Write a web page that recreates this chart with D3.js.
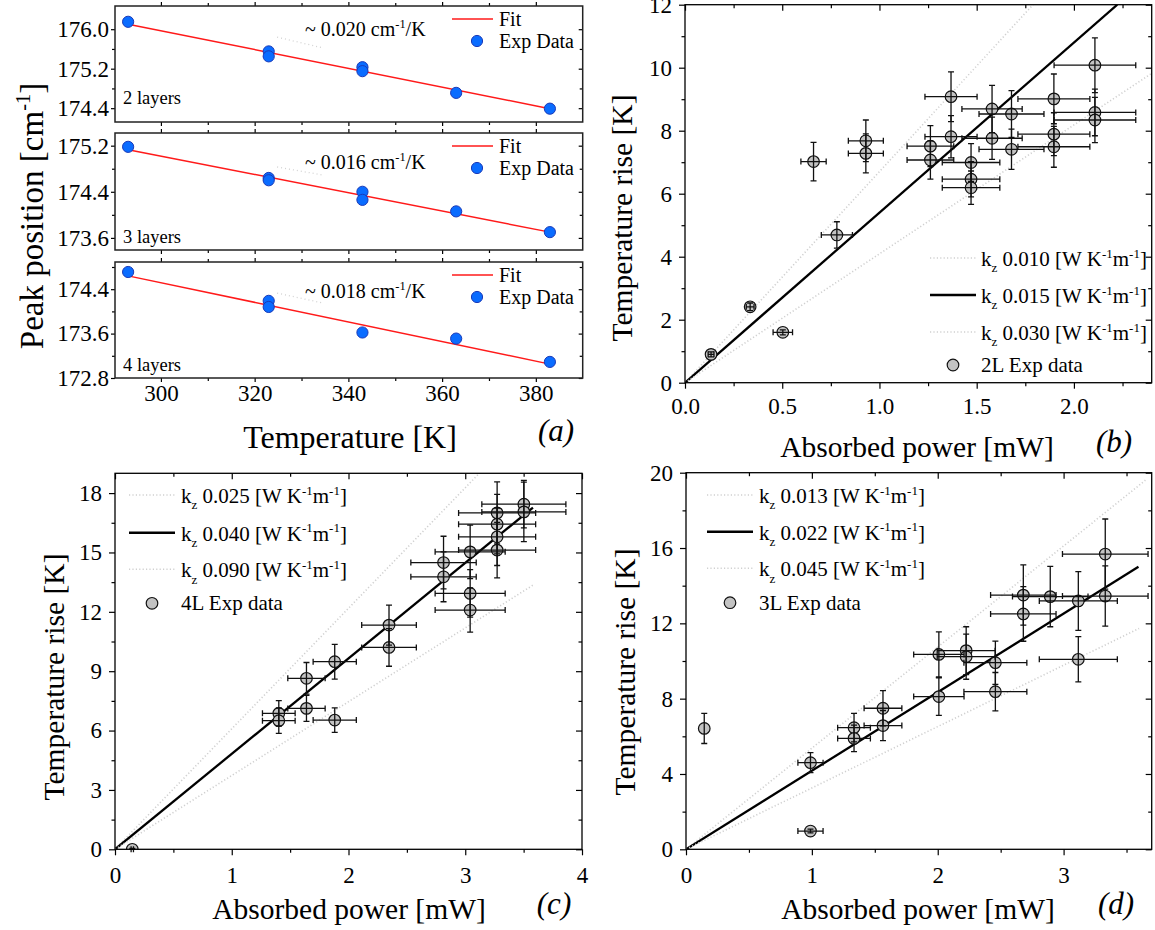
<!DOCTYPE html>
<html>
<head>
<meta charset="utf-8">
<script src="https://cdn.jsdelivr.net/npm/d3@7"></script>
<style>
  body { margin: 0; background: #fff; }
  svg { display: block; font-family: "Liberation Serif", "Times New Roman", serif; }
</style>
</head>
<body>
<svg id="fig" width="1155" height="930"></svg>
<script>
// ---------- (a) Raman peak position versus temperature ----------
const tempK2L = [293, 323, 323, 343, 343, 363, 383];
const peak2L  = [176.15, 175.55, 175.45, 175.23, 175.15, 174.71, 174.39];
const tempK3L = [293, 323, 323, 343, 343, 363, 383];
const peak3L  = [175.18, 174.64, 174.60, 174.40, 174.26, 174.06, 173.70];
const tempK4L = [293, 323, 323, 343, 363, 383];
const peak4L  = [174.71, 174.19, 174.08, 173.62, 173.51, 173.09];
const fitTemp = [293, 383];
const fit2L = [176.10, 174.39];
const fit3L = [175.13, 173.70];
const fit4L = [174.64, 173.05];
const slopeText = ["0.020", "0.016", "0.018"];
const layerText = ["2 layers", "3 layers", "4 layers"];
const tempTicks = [300, 320, 340, 360, 380];
const tempMinor = [310, 330, 350, 370];
const peakTicks2L = [174.4, 175.2, 176.0];
const peakTicks3L = [173.6, 174.4, 175.2];
const peakTicks4L = [172.8, 173.6, 174.4];
const peakMinor2L = [174.8, 175.6];
const peakMinor3L = [174.0, 174.8];
const peakMinor4L = [173.2, 174.0, 174.8];
const peakRange2L = [174.12, 176.47];
const peakRange3L = [173.39, 175.42];
const peakRange4L = [172.8, 174.89];
// leader from the slope note toward the fit line: [T0, T1], [peak0, peak1]
const leaderTemp = [324.8, 334.6];
const leader2L = [175.84, 175.62];
const leader3L = [174.83, 174.69];
const leader4L = [174.33, 174.15];

// ---------- (b) 2 layers: temperature rise vs absorbed power ----------
const power2L = [0.134, 0.335, 0.503, 0.661, 0.781, 0.930, 0.930, 1.262, 1.262, 1.368, 1.368, 1.471, 1.471, 1.471, 1.579, 1.579, 1.679, 1.679, 1.897, 1.897, 1.897, 2.108, 2.108, 2.108];
const rise2L  = [0.90, 2.41, 1.60, 7.02, 4.69, 7.68, 7.28, 7.51, 7.07, 9.08, 7.81, 6.99, 6.46, 6.19, 8.69, 7.76, 8.53, 7.41, 9.01, 7.89, 7.49, 10.08, 8.58, 8.34];
const powerErr2L = [0.015, 0.02, 0.05, 0.065, 0.08, 0.09, 0.09, 0.12, 0.12, 0.134, 0.134, 0.148, 0.148, 0.148, 0.155, 0.155, 0.167, 0.167, 0.185, 0.185, 0.185, 0.21, 0.21, 0.21];
const riseErr2L  = [0.08, 0.12, 0.08, 0.61, 0.42, 0.66, 0.62, 0.65, 0.61, 0.79, 0.67, 0.60, 0.56, 0.53, 0.75, 0.67, 0.74, 0.64, 0.79, 0.68, 0.65, 0.87, 0.74, 0.72];
const kz2L = ["0.010", "0.015", "0.030"];
const modelEndPower2L = [1.79, 2.223, 2.4];
const modelEndRise2L  = [12, 12, 9.82];
const powerTicks2L = [0, 0.5, 1.0, 1.5, 2.0];
const powerMinor2L = [0.25, 0.75, 1.25, 1.75, 2.25];
const riseTicks2L = [0, 2, 4, 6, 8, 10, 12];
const riseMinor2L = [1, 3, 5, 7, 9, 11];

// ---------- (c) 4 layers ----------
const power4L = [0.148, 1.403, 1.403, 1.640, 1.640, 1.882, 1.882, 2.347, 2.347, 2.814, 2.814, 3.042, 3.042, 3.042, 3.273, 3.273, 3.273, 3.273, 3.502, 3.502];
const rise4L  = [0.0, 6.87, 6.50, 8.64, 7.12, 9.48, 6.53, 11.33, 10.20, 14.49, 13.77, 15.03, 12.93, 12.09, 17.00, 16.43, 15.79, 15.12, 17.44, 17.05];
const powerErr4L = [0.01, 0.14, 0.14, 0.16, 0.16, 0.185, 0.185, 0.234, 0.234, 0.28, 0.28, 0.30, 0.30, 0.30, 0.33, 0.33, 0.33, 0.33, 0.36, 0.36];
const riseErr4L  = [0.05, 0.64, 0.64, 0.80, 0.66, 0.88, 0.62, 1.01, 0.95, 1.33, 1.26, 1.35, 1.20, 1.12, 1.57, 1.50, 1.45, 1.40, 1.20, 1.50];
const kz4L = ["0.025", "0.040", "0.090"];
const modelEndPower4L = [3.12, 3.58, 3.58];
const modelEndRise4L  = [19, 17.27, 13.35];
const powerTicks4L = [0, 1, 2, 3, 4];
const powerMinor4L = [0.5, 1.5, 2.5, 3.5];
const riseTicks4L = [0, 3, 6, 9, 12, 15, 18];
const riseMinor4L = [1.5, 4.5, 7.5, 10.5, 13.5, 16.5];

// ---------- (d) 3 layers ----------
const power3L = [0.145, 0.989, 0.989, 1.335, 1.335, 1.565, 1.565, 2.009, 2.009, 2.226, 2.226, 2.458, 2.458, 2.680, 2.680, 2.894, 3.117, 3.117, 3.331, 3.331];
const rise3L  = [6.42, 4.60, 0.97, 6.46, 5.89, 7.49, 6.57, 10.35, 8.11, 10.55, 10.23, 9.91, 8.37, 13.50, 12.50, 13.42, 13.19, 10.09, 15.68, 13.45];
const powerErr3L = [0, 0.10, 0.10, 0.13, 0.13, 0.15, 0.15, 0.20, 0.20, 0.23, 0.23, 0.25, 0.25, 0.26, 0.26, 0.30, 0.31, 0.31, 0.34, 0.34];
const riseErr3L  = [0.80, 0.53, 0.10, 0.76, 0.70, 0.94, 0.80, 1.20, 1.00, 1.27, 1.20, 1.15, 1.02, 1.60, 1.45, 1.60, 1.56, 1.20, 1.86, 1.60];
const kz3L = ["0.013", "0.022", "0.045"];
const modelEndPower3L = [3.65, 3.595, 3.60];
const modelEndRise3L  = [19.6, 15.0, 11.73];
const powerTicks3L = [0, 1, 2, 3];
const powerMinor3L = [0.5, 1.5, 2.5, 3.5];
const riseTicks3L = [0, 4, 8, 12, 16, 20];
const riseMinor3L = [2, 6, 10, 14, 18];

// ================= drawing =================
const svg = d3.select("#fig");
const FONT = "Liberation Serif";
const BLUE_FILL = "#0a6cff", BLUE_EDGE = "#1a3ab8";
const GREY_FILL = "#c3c3c3";
const TICK_FS = 23;

// text with sub/superscripts: parts = [[text, "n" | "sub" | "sup"], ...]
function richText(sel, parts, size) {
  let shift = 0;
  parts.forEach(([t, kind]) => {
    const target = kind === "sup" ? -0.4 * size : kind === "sub" ? 0.3 * size : 0;
    const ts = sel.append("tspan").text(t).attr("dy", target - shift);
    if (kind !== "n") ts.attr("font-size", size * 0.62);
    shift = target;
  });
  return sel;
}

function styleAxis(g, size) {
  g.attr("font-family", FONT).attr("font-size", size);
  g.select(".domain").remove();
  g.selectAll("line").attr("stroke", "#000").attr("stroke-width", 1.2);
  g.selectAll("text").attr("fill", "#000");
}

// four-sided frame: labelled left/bottom ticks point out, mirrored ticks point in
function drawAxes(g, x, y, o) {
  const [x0, x1] = x.range(), [y0, y1] = y.range();
  g.append("g").attr("transform", `translate(0,${y0})`)
    .call(d3.axisBottom(x).tickValues(o.xMajor).tickSize(o.tick).tickPadding(o.xPad)
      .tickFormat(o.xLabels ? o.xFmt : ""))
    .call(s => styleAxis(s, o.fs));
  g.append("g").attr("transform", `translate(0,${y0})`)
    .call(d3.axisBottom(x).tickValues(o.xMinor).tickSize(o.minor).tickFormat(""))
    .call(s => styleAxis(s, o.fs));
  g.append("g").attr("transform", `translate(0,${y1})`)
    .call(d3.axisTop(x).tickValues(o.xMajor).tickSize(o.topOut ? o.tick : -o.tick).tickFormat(""))
    .call(s => styleAxis(s, o.fs));
  g.append("g").attr("transform", `translate(0,${y1})`)
    .call(d3.axisTop(x).tickValues(o.xMinor).tickSize(o.topOut ? o.minor : -o.minor).tickFormat(""))
    .call(s => styleAxis(s, o.fs));
  g.append("g").attr("transform", `translate(${x0},0)`)
    .call(d3.axisLeft(y).tickValues(o.yMajor).tickSize(o.tick).tickPadding(o.yPad).tickFormat(o.yFmt))
    .call(s => styleAxis(s, o.fs));
  g.append("g").attr("transform", `translate(${x0},0)`)
    .call(d3.axisLeft(y).tickValues(o.yMinor).tickSize(o.minor).tickFormat(""))
    .call(s => styleAxis(s, o.fs));
  g.append("g").attr("transform", `translate(${x1},0)`)
    .call(d3.axisRight(y).tickValues(o.yMajor).tickSize(-o.tick).tickFormat(""))
    .call(s => styleAxis(s, o.fs));
  g.append("g").attr("transform", `translate(${x1},0)`)
    .call(d3.axisRight(y).tickValues(o.yMinor).tickSize(-o.minor).tickFormat(""))
    .call(s => styleAxis(s, o.fs));
  g.append("rect").attr("x", x0).attr("y", y1).attr("width", x1 - x0).attr("height", y0 - y1)
    .attr("fill", "none").attr("stroke", o.frameColor || "#000").attr("stroke-width", o.frameWidth || 1.3);
}

let clipCount = 0;
function addClip(x, y) {
  const id = "clip" + (clipCount++);
  svg.append("clipPath").attr("id", id).append("rect")
    .attr("x", x.range()[0]).attr("y", y.range()[1])
    .attr("width", x.range()[1] - x.range()[0]).attr("height", y.range()[0] - y.range()[1]);
  return `url(#${id})`;
}

// ---------- panel (a) ----------
const subPlots = [
  { t: tempK2L, p: peak2L, fit: fit2L, dom: peakRange2L, major: peakTicks2L, minor: peakMinor2L, lead: leader2L, top: 6, bottom: 122, noteDy: 30 },
  { t: tempK3L, p: peak3L, fit: fit3L, dom: peakRange3L, major: peakTicks3L, minor: peakMinor3L, lead: leader3L, top: 133, bottom: 250, noteDy: 36 },
  { t: tempK4L, p: peak4L, fit: fit4L, dom: peakRange4L, major: peakTicks4L, minor: peakMinor4L, lead: leader4L, top: 262, bottom: 378, noteDy: 36 }
];
const xA = d3.scaleLinear().domain([290.2, 390]).range([115, 582.7]);

subPlots.forEach((sp, i) => {
  const y = d3.scaleLinear().domain(sp.dom).range([sp.bottom, sp.top]);
  const g = svg.append("g");
  const clip = addClip(xA, y);
  const plot = g.append("g").attr("clip-path", clip);

  // dotted leader from the slope note
  plot.append("path")
    .attr("d", d3.line()([[xA(leaderTemp[0]), y(sp.lead[0])], [xA(leaderTemp[1]), y(sp.lead[1])]]))
    .attr("stroke", "#d2d2d2").attr("stroke-width", 1.3).attr("stroke-dasharray", "1 3").attr("fill", "none");

  // linear fit
  plot.append("path")
    .datum(fitTemp.map((t, j) => [t, sp.fit[j]]))
    .attr("d", d3.line().x(d => xA(d[0])).y(d => y(d[1])))
    .attr("stroke", "#ff1a1a").attr("stroke-width", 1.5).attr("fill", "none");

  // measured peaks
  plot.selectAll("circle.pt").data(sp.t.map((t, j) => [t, sp.p[j]])).join("circle")
    .attr("class", "pt")
    .attr("cx", d => xA(d[0])).attr("cy", d => y(d[1])).attr("r", 5.6)
    .attr("fill", BLUE_FILL).attr("stroke", BLUE_EDGE).attr("stroke-width", 1);

  drawAxes(g, xA, y, {
    xMajor: tempTicks, xMinor: tempMinor, yMajor: sp.major, yMinor: sp.minor,
    xLabels: i === 2, xFmt: d3.format("d"), yFmt: d3.format(".1f"),
    tick: 4, minor: 3, xPad: 2.5, yPad: 2, fs: TICK_FS, topOut: true,
    frameColor: "#222", frameWidth: 1.5
  });

  // legend
  const top = sp.top;
  g.append("line").attr("x1", 452).attr("x2", 493).attr("y1", top + 13).attr("y2", top + 13)
    .attr("stroke", "#ff1a1a").attr("stroke-width", 1.5);
  g.append("text").attr("x", 499).attr("y", top + 20).attr("font-size", 20).text("Fit");
  g.append("circle").attr("cx", 477).attr("cy", top + 35).attr("r", 5.6)
    .attr("fill", BLUE_FILL).attr("stroke", BLUE_EDGE).attr("stroke-width", 1);
  g.append("text").attr("x", 499).attr("y", top + 42).attr("font-size", 20).text("Exp Data");

  // slope note
  richText(g.append("text").attr("x", 305).attr("y", top + sp.noteDy).attr("font-size", 20),
    [["~ " + slopeText[i] + " cm", "n"], ["-1", "sup"], ["/K", "n"]], 20);

  // layer count
  g.append("text").attr("x", 123).attr("y", sp.bottom - (i === 0 ? 18 : 7)).attr("font-size", 18.5)
    .text(layerText[i]);
});

richText(svg.append("text").attr("font-size", 33).attr("text-anchor", "middle")
  .attr("transform", "translate(43,216) rotate(-90)"),
  [["Peak position [cm", "n"], ["-1", "sup"], ["]", "n"]], 33);
svg.append("text").attr("x", 350).attr("y", 448).attr("font-size", 32).attr("text-anchor", "middle")
  .text("Temperature [K]");
svg.append("text").attr("x", 556).attr("y", 441).attr("font-size", 31).attr("font-style", "italic")
  .attr("text-anchor", "middle").text("(a)");

// ---------- panels (b), (c), (d) ----------
function powerPanel(c) {
  const x = d3.scaleLinear().domain(c.xDom).range([c.left, c.right]);
  const y = d3.scaleLinear().domain(c.yDom).range([c.bottom, c.top]);
  const g = svg.append("g");
  const plot = g.append("g").attr("clip-path", addClip(x, y));
  const line = d3.line().x(d => x(d[0])).y(d => y(d[1]));

  // heat-transport model lines for three k_z values
  c.kz.forEach((k, i) => {
    const p = plot.append("path")
      .datum([[0, 0], [c.endP[i], c.endT[i]]])
      .attr("d", line).attr("fill", "none");
    if (i === 1) p.attr("stroke", "#000").attr("stroke-width", 2.3);
    else p.attr("stroke", "#d0d0d0").attr("stroke-width", 1.6).attr("stroke-dasharray", "1.2 2.2");
  });

  const pts = c.p.map((v, j) => ({ x: v, y: c.t[j], ex: c.ex[j], ey: c.ey[j] }));
  const cap = 3;
  const eb = g.append("g").attr("stroke", "#111").attr("stroke-width", 1.3).attr("fill", "none");
  pts.forEach(d => {
    const cx = x(d.x), cy = y(d.y);
    if (d.ex > 0) {
      const xl = x(d.x - d.ex), xr = x(d.x + d.ex);
      eb.append("path").attr("d", `M${xl},${cy}H${xr}M${xl},${cy - cap}V${cy + cap}M${xr},${cy - cap}V${cy + cap}`);
    }
    if (d.ey > 0) {
      const yt = y(d.y + d.ey), yb = Math.min(y(d.y - d.ey), c.bottom);
      eb.append("path").attr("d", `M${cx},${yt}V${yb}M${cx - cap},${yt}H${cx + cap}M${cx - cap},${yb}H${cx + cap}`);
    }
  });
  plot.selectAll("circle.pt").data(pts).join("circle").attr("class", "pt")
    .attr("cx", d => x(d.x)).attr("cy", d => y(d.y)).attr("r", 5.8)
    .attr("fill", GREY_FILL).attr("stroke", "#111").attr("stroke-width", 1.2);

  drawAxes(g, x, y, {
    xMajor: c.xMajor, xMinor: c.xMinor, yMajor: c.yMajor, yMinor: c.yMinor,
    xLabels: true, xFmt: c.xFmt, yFmt: d3.format("d"),
    tick: 6, minor: 3.5, xPad: c.xPad, yPad: 7, fs: TICK_FS, topOut: false
  });

  // legend
  const L = c.legend;
  c.kz.forEach((k, i) => {
    const ly = L.rows[i];
    const s = g.append("line").attr("x1", L.x0).attr("x2", L.x1).attr("y1", ly).attr("y2", ly);
    if (i === 1) s.attr("stroke", "#000").attr("stroke-width", 2.6);
    else s.attr("stroke", "#d0d0d0").attr("stroke-width", 1.6).attr("stroke-dasharray", "1.2 2.2");
    richText(g.append("text").attr("x", L.tx).attr("y", ly + 8).attr("font-size", 21),
      [["k", "n"], ["z", "sub"], [" " + k + " [W K", "n"], ["-1", "sup"], ["m", "n"], ["-1", "sup"], ["]", "n"]], 21);
  });
  const cy = L.rows[3];
  g.append("circle").attr("cx", (L.x0 + L.x1) / 2).attr("cy", cy).attr("r", 5.8)
    .attr("fill", GREY_FILL).attr("stroke", "#111").attr("stroke-width", 1.2);
  g.append("text").attr("x", L.tx).attr("y", cy + 7).attr("font-size", 21).text(c.dataName);

  // titles
  svg.append("text").attr("font-size", 29.5).attr("text-anchor", "middle")
    .attr("transform", `translate(${c.yTitle[0]},${c.yTitle[1]}) rotate(-90)`).text("Temperature rise [K]");
  svg.append("text").attr("x", c.xTitle[0]).attr("y", c.xTitle[1]).attr("font-size", 29.5)
    .attr("text-anchor", "middle").text("Absorbed power [mW]");
  svg.append("text").attr("x", c.tag[0]).attr("y", c.tag[1]).attr("font-size", 31)
    .attr("font-style", "italic").attr("text-anchor", "middle").text(c.tagText);
}

powerPanel({
  p: power2L, t: rise2L, ex: powerErr2L, ey: riseErr2L,
  kz: kz2L, endP: modelEndPower2L, endT: modelEndRise2L,
  xDom: [0, 2.4], yDom: [0, 12], left: 685, right: 1151.7, top: 4.7, bottom: 382.7,
  xMajor: powerTicks2L, xMinor: powerMinor2L, yMajor: riseTicks2L, yMinor: riseMinor2L,
  xFmt: d3.format(".1f"), xPad: 9,
  legend: { x0: 930, x1: 976, tx: 981, rows: [258, 295, 332, 365] },
  dataName: "2L Exp data",
  yTitle: [632, 218], xTitle: [917, 457], tag: [1114, 452], tagText: "(b)"
});

powerPanel({
  p: power4L, t: rise4L, ex: powerErr4L, ey: riseErr4L,
  kz: kz4L, endP: modelEndPower4L, endT: modelEndRise4L,
  xDom: [0, 4], yDom: [0, 19], left: 115, right: 582, top: 473.3, bottom: 849.3,
  xMajor: powerTicks4L, xMinor: powerMinor4L, yMajor: riseTicks4L, yMinor: riseMinor4L,
  xFmt: d3.format("d"), xPad: 11,
  legend: { x0: 129, x1: 175, tx: 181, rows: [495, 532.7, 569.3, 603.3] },
  dataName: "4L Exp data",
  yTitle: [64, 677], xTitle: [349, 919], tag: [554, 914], tagText: "(c)"
});

powerPanel({
  p: power3L, t: rise3L, ex: powerErr3L, ey: riseErr3L,
  kz: kz3L, endP: modelEndPower3L, endT: modelEndRise3L,
  xDom: [0, 3.7], yDom: [0, 20], left: 686, right: 1151.7, top: 472.7, bottom: 849.3,
  xMajor: powerTicks3L, xMinor: powerMinor3L, yMajor: riseTicks3L, yMinor: riseMinor3L,
  xFmt: d3.format("d"), xPad: 11,
  legend: { x0: 707, x1: 753, tx: 759, rows: [495, 531.7, 568.3, 602.7] },
  dataName: "3L Exp data",
  yTitle: [635, 672], xTitle: [918, 919], tag: [1116, 914], tagText: "(d)"
});
</script>
</body>
</html>
